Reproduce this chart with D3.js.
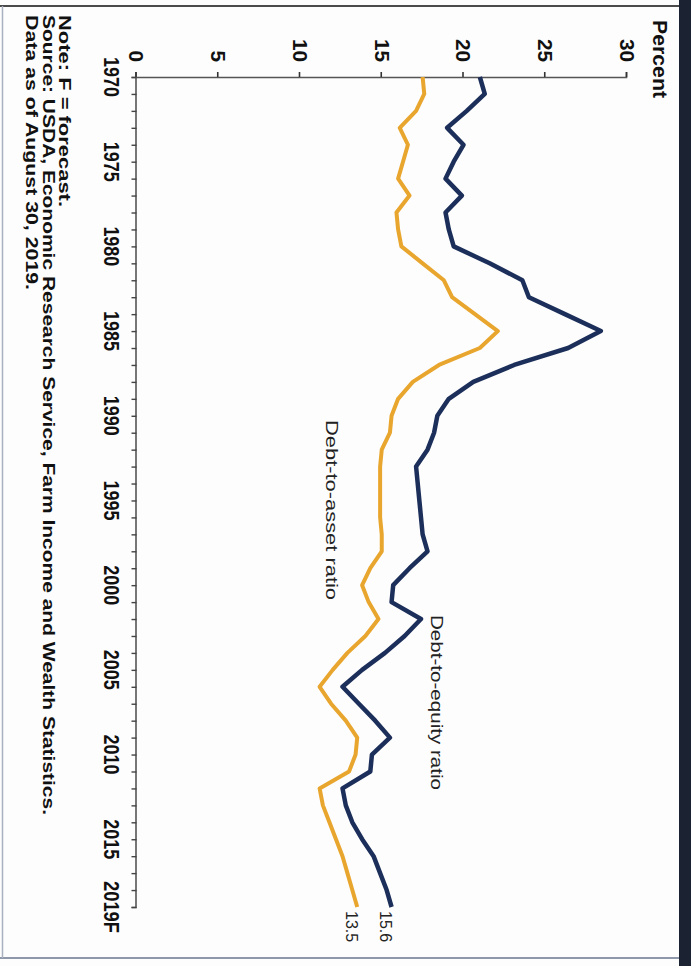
<!DOCTYPE html>
<meta charset="utf-8">
<style>
  body { margin: 0; background: #fff; }
  svg { display: block; }
</style>
<svg width="691" height="966"></svg>
<script src="https://d3js.org/d3.v7.min.js"></script>
<script>
// farm debt ratios, percent (the chart is printed rotated 90 degrees)
var years = d3.range(1970, 2020)

var debtToEquity = [
  21.0, 21.3, 20.2, 19.0, 20.0, 19.4, 18.9, 19.9, 18.9, 19.1,
  19.4, 21.6, 23.6, 24.0, 26.2, 28.4, 26.4, 23.1, 20.6, 19.1,
  18.4, 18.2, 17.8, 17.1, 17.2, 17.3, 17.4, 17.5, 17.8, 16.7,
  15.7, 15.6, 17.4, 16.4, 15.2, 13.8, 12.6, 13.6, 14.6, 15.5,
  14.4, 14.3, 12.6, 12.8, 13.2, 13.8, 14.5, 14.9, 15.3, 15.6
]

var debtToAsset = [
  17.5, 17.6, 17.1, 16.1, 16.6, 16.3, 16.0, 16.7, 15.9, 16.0,
  16.2, 17.5, 18.8, 19.3, 20.7, 22.1, 21.0, 18.5, 16.9, 16.0,
  15.6, 15.5, 15.0, 14.9, 14.9, 14.9, 14.9, 15.0, 15.0, 14.3,
  13.8, 14.2, 14.8, 14.0, 12.9, 12.0, 11.2, 11.9, 12.8, 13.5,
  13.4, 13.0, 11.2, 11.4, 11.8, 12.2, 12.6, 12.9, 13.2, 13.5
]

var yearLabels = [1970, 1975, 1980, 1985, 1990, 1995, 2000, 2005, 2010, 2015, 2019]
var valueTicks = [0, 5, 10, 15, 20, 25, 30]

var notes = [
  'Note: F = forecast.',
  'Source: USDA, Economic Research Service, Farm Income and Wealth Statistics.',
  'Data as of August 30, 2019.'
]

var bold = "'Liberation Sans', Arial, sans-serif"
var regular = "'Liberation Sans', Arial, sans-serif"

var svg = d3.select('svg')

// page frame from the scan
svg.append('rect').attr('x', 0).attr('y', 0).attr('width', 691).attr('height', 966).attr('fill', '#fdfdfd')
svg.append('line').attr('x1', 0).attr('x2', 680).attr('y1', 6).attr('y2', 6)
  .attr('stroke', '#4a4a4a').attr('stroke-width', 2)
svg.append('line').attr('x1', 0).attr('x2', 680).attr('y1', 958).attr('y2', 958)
  .attr('stroke', '#8f97aa').attr('stroke-width', 2)
svg.append('line').attr('x1', 2.5).attr('x2', 2.5).attr('y1', 6).attr('y2', 958)
  .attr('stroke', '#a9b0bf').attr('stroke-width', 1.5)
svg.append('rect').attr('x', 679).attr('y', 0).attr('width', 12).attr('height', 966).attr('fill', '#1b2231')

// everything below is drawn upright and then turned clockwise
var g = svg.append('g').attr('transform', 'translate(691,0) rotate(90)')

var x = d3.scaleLinear().domain([1970, 2019]).range([77, 907])
var y = d3.scaleLinear().domain([0, 30]).range([554.5, 64])

// value axis
var yAxis = d3.axisLeft(y).tickValues(valueTicks).tickSize(5).tickPadding(10)
var yG = g.append('g').attr('transform', 'translate(' + x(1970) + ',0)').call(yAxis)
yG.select('.domain').attr('stroke', '#555').attr('stroke-width', 1.6)
yG.selectAll('.tick line').attr('stroke', '#333').attr('stroke-width', 1.6)
yG.selectAll('.tick text')
  .attr('font-family', bold).attr('font-weight', 'bold').attr('font-size', 21).attr('fill', '#111')
  .attr('textLength', function (d) { return String(d).length * 11.5 })
  .attr('lengthAdjust', 'spacingAndGlyphs')

// year axis, a tick each year
var xAxis = d3.axisBottom(x).tickValues(years).tickSize(5).tickFormat('')
var xG = g.append('g').attr('transform', 'translate(0,' + y(0) + ')').call(xAxis)
xG.select('.domain').attr('stroke', '#555').attr('stroke-width', 1.6)
xG.selectAll('.tick line').attr('stroke', '#444').attr('stroke-width', 1.4)

g.selectAll('.year-label')
  .data(yearLabels)
  .enter().append('text')
  .attr('class', 'year-label')
  .attr('x', function (d) { return x(d) })
  .attr('y', y(0) + 33)
  .attr('text-anchor', 'middle')
  .attr('font-family', bold).attr('font-weight', 'bold').attr('font-size', 22).attr('fill', '#111')
  .attr('textLength', function (d) { return d === 2019 ? 52 : 40 })
  .attr('lengthAdjust', 'spacingAndGlyphs')
  .text(function (d) { return d === 2019 ? '2019F' : d })

g.append('text')
  .attr('x', 20).attr('y', 38)
  .attr('font-family', bold).attr('font-weight', 'bold').attr('font-size', 20).attr('fill', '#111')
  .attr('textLength', 78).attr('lengthAdjust', 'spacingAndGlyphs')
  .text('Percent')

// the two series
var line = d3.line()
  .x(function (d, i) { return x(years[i]) })
  .y(function (d) { return y(d) })

g.append('path').datum(debtToAsset)
  .attr('d', line).attr('fill', 'none')
  .attr('stroke', '#e9a62e').attr('stroke-width', 4).attr('stroke-linejoin', 'round')

g.append('path').datum(debtToEquity)
  .attr('d', line).attr('fill', 'none')
  .attr('stroke', '#1c2f5a').attr('stroke-width', 4.5).attr('stroke-linejoin', 'round')

g.append('text')
  .attr('x', 615).attr('y', 260)
  .attr('font-family', regular).attr('font-size', 17).attr('fill', '#222')
  .attr('textLength', 175).attr('lengthAdjust', 'spacingAndGlyphs')
  .text('Debt-to-equity ratio')

g.append('text')
  .attr('x', 420).attr('y', 365)
  .attr('font-family', regular).attr('font-size', 17).attr('fill', '#222')
  .attr('textLength', 180).attr('lengthAdjust', 'spacingAndGlyphs')
  .text('Debt-to-asset ratio')

// end values
var lastEquity = debtToEquity[debtToEquity.length - 1]
var lastAsset = debtToAsset[debtToAsset.length - 1]
g.append('text')
  .attr('x', 911).attr('y', y(lastEquity) + 12)
  .attr('font-family', regular).attr('font-size', 16).attr('fill', '#222')
  .text(lastEquity.toFixed(1))
g.append('text')
  .attr('x', 911).attr('y', y(lastAsset) + 11)
  .attr('font-family', regular).attr('font-size', 16).attr('fill', '#222')
  .text(lastAsset.toFixed(1))

// notes under the chart
var noteLengths = [192, 800, 275]
g.selectAll('.note')
  .data(notes)
  .enter().append('text')
  .attr('class', 'note')
  .attr('x', 15)
  .attr('y', function (d, i) { return 632 + i * 16.5 })
  .attr('font-family', bold).attr('font-weight', 'bold').attr('font-size', 17).attr('fill', '#111')
  .attr('textLength', function (d, i) { return noteLengths[i] })
  .attr('lengthAdjust', 'spacingAndGlyphs')
  .text(function (d) { return d })
</script>
